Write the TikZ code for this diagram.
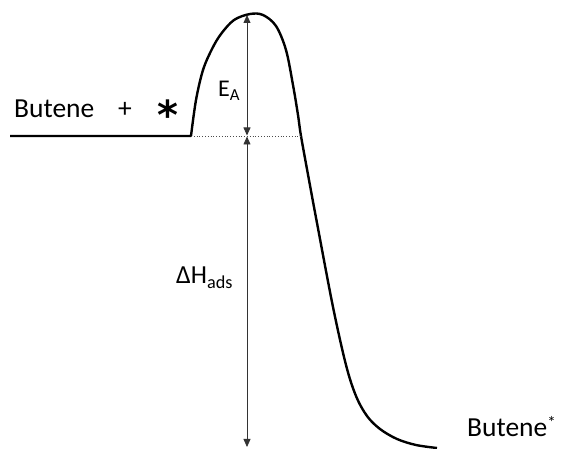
\documentclass[tikz,border=0pt]{standalone}
\usepackage{fontspec}
\setmainfont{Carlito}
\newfontfamily\starfont{DejaVu Sans}
\usetikzlibrary{arrows.meta}
\begin{document}
\begin{tikzpicture}[x=1pt,y=-1pt,
  curve/.style={line width=2.4pt,line join=round},
  dim/.style={line width=0.8pt,draw=black!80,{Triangle[length=8pt,width=7pt]}-{Triangle[length=8pt,width=7pt]}},
  lbl/.style={inner sep=0pt,anchor=base west,font=\fontsize{27.5}{32}\selectfont}]
\useasboundingbox (0,0) rectangle (582,449);
% energy profile
\draw[curve] (10,136) -- (191,136)
  plot[smooth,tension=0.55] coordinates {(191,136) (196,100) (203,70) (212,49) (221,34) (234,20) (250,14) (263,15) (276,26) (286,50) (293,85) (298,115) (301,136) (309,180) (317,223) (333,307) (346,365) (356,396) (367,416) (380,429) (397,439) (416,445) (437,448)};
% dotted reference level
\coordinate (dl) at (191,136);
\coordinate (dr) at (301,136);
\draw[dotted,line width=0.8pt,draw=black!70] (dl) -- (dr);
% dimension arrows
\coordinate (top) at (247,15);
\coordinate (mid1) at (247,135.5);
\coordinate (mid2) at (247,136.5);
\coordinate (bot) at (247,447);
\draw[dim] (top) -- (mid1);
\draw[dim] (mid2) -- (bot);
% labels
\node[lbl] (reac) at (14,118) {Butene};
\node[lbl] (plus) at (118,118) {+};
\node[inner sep=0pt,anchor=base,font=\fontsize{40}{40}\selectfont\starfont\bfseries] (star) at (167.5,130) {*};
\node[lbl,font=\fontsize{24}{28}\selectfont] (ea) at (218,97) {E\textsubscript{A}};
\node[lbl,font=\fontsize{26}{30}\selectfont] (dh) at (176,284) {Δ{}H\textsubscript{ads}};
\node[lbl] (prod) at (467,437) {Butene\raisebox{8pt}{\fontsize{17}{20}\selectfont*}};
\end{tikzpicture}
\end{document}
